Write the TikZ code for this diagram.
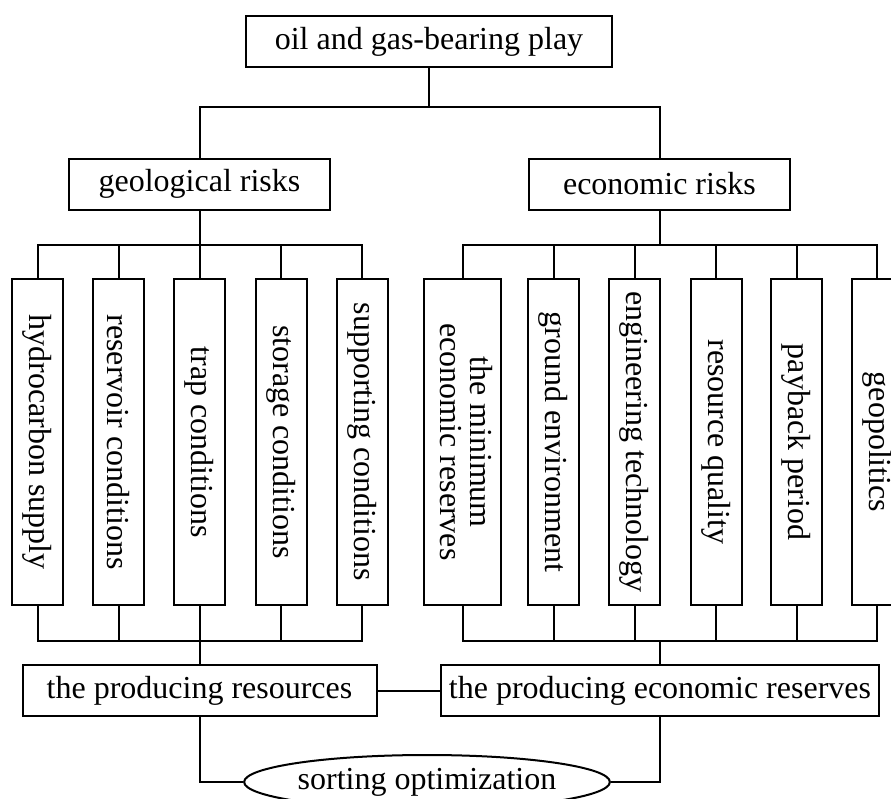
\documentclass[tikz,border=0pt]{standalone}
\usepackage{fontspec}
\usepackage{graphicx}
\setmainfont{Liberation Serif}
\usetikzlibrary{shapes.geometric}
\begin{document}
\begin{tikzpicture}[x=0.5pt,y=-0.5pt,
  every node/.style={font=\fontsize{16}{15}\selectfont},
  box/.style={draw, line width=1pt, inner sep=0pt},
  hbox/.style={box, minimum height=25.5pt},
  vbox/.style={box, minimum width=25.5pt, minimum height=163pt},
  wire/.style={line width=1pt}
]
\clip (0,0) rectangle (891,799);
\useasboundingbox (0,0) rectangle (891,799);
\fill[white] (0,0) rectangle (891,799);

% top levels
\node[hbox, minimum width=183pt] (top) at (429,41.5) {oil and gas-bearing play};
\node[hbox, minimum width=130.5pt] (geo) at (199.5,184) {geological risks};
\node[hbox, minimum width=130.5pt] (eco) at (659.5,184) {economic risks};

% geological factors
\node[vbox] (g1) at (37.5,442) {\rotatebox{-90}{hydrocarbon supply}};
\node[vbox] (g2) at (118.5,442) {\rotatebox{-90}{reservoir conditions}};
\node[vbox] (g3) at (199.5,442) {\rotatebox{-90}{trap conditions}};
\node[vbox] (g4) at (281,442) {\rotatebox{-90}{storage conditions}};
\node[vbox] (g5) at (362,442) {\rotatebox{-90}{supporting conditions}};

% economic factors
\node[vbox, minimum width=38.5pt] (e1) at (462.5,442) {\rotatebox{-90}{\begin{tabular}{@{}c@{}}the minimum\\economic reserves\end{tabular}}};
\node[vbox] (e2) at (553.5,442) {\rotatebox{-90}{ground environment}};
\node[vbox] (e3) at (634.5,442) {\rotatebox{-90}{engineering technology}};
\node[vbox] (e4) at (716,442) {\rotatebox{-90}{resource quality}};
\node[vbox] (e5) at (796.5,442) {\rotatebox{-90}{payback period}};
\node[vbox] (e6) at (877,442) {\rotatebox{-90}{geopolitics}\hspace{9pt}};

% results
\node[hbox, minimum width=177pt] (pr) at (199.5,690.5) {the producing resources};
\node[hbox, minimum width=219pt] (er) at (660,690.5) {the producing economic reserves};
\node[draw, ellipse, line width=1pt, minimum width=182pt, minimum height=27pt, inner sep=0pt] (so) at (427,782) {sorting optimization};

% connectors
\coordinate (j0) at (429,107);
\draw[wire] (top.south) -- (j0);
\draw[wire] (geo.north) |- (j0) -| (eco.north);

\coordinate (gt) at (199.5,245);
\draw[wire] (geo.south) -- (gt);
\draw[wire] (g1.north) |- (gt) -| (g5.north);
\foreach \n in {g2,g3,g4} \draw[wire] (\n.north) -- (\n.north |- gt);

\coordinate (et) at (659.5,245);
\draw[wire] (eco.south) -- (et);
\draw[wire] (e1.north) |- (et) -| (e6.north);
\foreach \n in {e2,e3,e4,e5} \draw[wire] (\n.north) -- (\n.north |- et);

\coordinate (gb) at (199.5,641);
\draw[wire] (g1.south) |- (gb) -| (g5.south);
\foreach \n in {g2,g3,g4} \draw[wire] (\n.south) -- (\n.south |- gb);
\draw[wire] (gb) -- (pr.north);

\coordinate (eb) at (660,641);
\draw[wire] (e1.south) |- (eb) -| (e6.south);
\foreach \n in {e2,e3,e4,e5} \draw[wire] (\n.south) -- (\n.south |- eb);
\draw[wire] (eb) -- (er.north);

\draw[wire] (pr.east) -- (er.west);
\draw[wire] (pr.south) |- (so.west);
\draw[wire] (er.south) |- (so.east);
\end{tikzpicture}
\end{document}
